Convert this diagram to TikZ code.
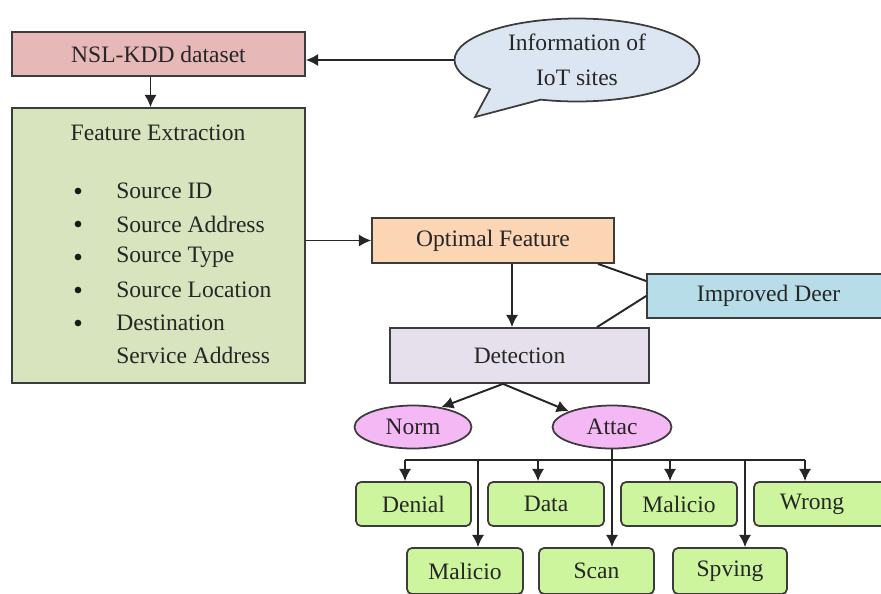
\documentclass[tikz,border=0pt]{standalone}
\usepackage{fontspec}
\setmainfont{Liberation Serif}
\usetikzlibrary{arrows.meta,shapes.geometric,shapes.callouts}
\definecolor{bord}{HTML}{3C3C3C}
\definecolor{txt}{HTML}{262626}
\definecolor{nslc}{HTML}{E6B9B8}
\definecolor{infoc}{HTML}{DCE6F2}
\definecolor{featc}{HTML}{D7E4BD}
\definecolor{optc}{HTML}{FCD5B5}
\definecolor{detc}{HTML}{E5E0EC}
\definecolor{deerc}{HTML}{B7DEE8}
\definecolor{vio}{HTML}{F4B8F4}
\definecolor{grn}{HTML}{CCF59E}
\begin{document}
\begin{tikzpicture}[x=0.02cm,y=-0.02cm,
  every node/.style={font=\fontsize{13.4}{18.7}\selectfont, text=txt},
  box/.style={draw=bord, line width=1pt, inner sep=0pt, rectangle},
  gbox/.style={box, rounded corners=0.1cm, fill=grn},
  oval/.style={ellipse, draw=bord, line width=1pt, fill=vio, inner sep=0pt, minimum height=0.86cm},
  plain/.style={inner sep=0pt},
  dot/.style={circle, fill=black!90, inner sep=0pt, minimum size=3.8pt},
  conn/.style={line width=1.1pt, draw=black!85},
  arr/.style={conn, -{Latex[length=7pt,width=7pt]}},
]
\useasboundingbox (0,0) rectangle (881,593);
\clip (0,0) rectangle (881,593);

% top boxes
\node[box, fill=nslc, minimum width=5.86cm, minimum height=0.88cm] (nsl) at (158.5,54) {NSL-KDD dataset};
\node[ellipse callout, draw=bord, line width=1pt, fill=infoc, inner sep=0pt,
      minimum width=4.9cm, minimum height=1.66cm, align=center,
      callout absolute pointer={(475,117)}, callout pointer arc=28] (info) at (577,60)
      {Information of\\[1pt]IoT sites};

% feature extraction
\node[box, fill=featc, minimum width=5.86cm, minimum height=5.5cm] (feat) at (158.5,245.5) {};
\node[plain] (ft) at (158,133) {Feature Extraction};
\node[dot] (d1) at (78,191) {};
\node[dot] (d2) at (78,224) {};
\node[dot] (d3) at (78,257) {};
\node[dot] (d4) at (78,290) {};
\node[dot] (d5) at (78,323) {};
\node[plain, anchor=west] (s1) at (116,191) {Source ID};
\node[plain, anchor=west] (s2) at (116,224) {Source Address};
\node[plain, anchor=west] (s3) at (116,257) {Source Type};
\node[plain, anchor=west] (s4) at (116,290) {Source Location};
\node[plain, anchor=west] (s5) at (116,323) {Destination};
\node[plain, anchor=west] (s6) at (116,355) {Service Address};

% middle
\node[box, fill=optc, minimum width=4.84cm, minimum height=0.9cm] (opt) at (493,240.5) {Optimal Feature};
\node[box, fill=detc, minimum width=5.18cm, minimum height=1.1cm] (det) at (519.5,355.5) {Detection};
\node[box, fill=deerc, minimum width=4.86cm, minimum height=0.88cm] (deer) at (768.5,296) {Improved Deer};

% ellipses
\node[oval, minimum width=2.34cm] (norm) at (413,427) {Norm};
\node[oval, minimum width=2.38cm] (attac) at (612,427) {Attac};

% categories
\node[gbox, minimum width=2.3cm, minimum height=0.88cm] (denial) at (413.5,504) {Denial};
\node[gbox, minimum width=2.32cm, minimum height=0.88cm] (data) at (546,504) {Data};
\node[gbox, minimum width=2.32cm, minimum height=0.88cm] (mal1) at (679,504) {Malicio};
\node[gbox, minimum width=2.8cm, minimum height=0.88cm] (wrong) at (824,504) {\hspace*{-0.48cm}Wrong};
\node[gbox, minimum width=2.32cm, minimum height=0.92cm] (mal2) at (465,571) {Malicio};
\node[gbox, minimum width=2.3cm, minimum height=0.92cm] (scan) at (596.5,571) {Scan};
\node[gbox, minimum width=2.28cm, minimum height=0.92cm] (spving) at (730,571) {Spving};

% connectors
\draw[arr] (info.west) -- (info.west -| nsl.east);
\draw[arr] ([xshift=-0.16cm]nsl.south) -- ([xshift=-0.16cm]nsl.south |- feat.north);
\draw[arr] (opt.west -| feat.east) -- (opt.west);
\draw[arr] ([xshift=0.38cm]opt.south) -- ([xshift=0.38cm]opt.south |- det.north);
\draw[conn] ([xshift=2.1cm]opt.south) -- ([yshift=0.3cm]deer.west);
\draw[conn] (deer.west) -- ([xshift=1.55cm]det.north);
\draw[arr] ([xshift=-0.33cm]det.south) -- (norm.35);
\draw[arr] ([xshift=-0.33cm]det.south) -- (attac.160);

\coordinate (b1) at (405,460);
\coordinate (b2) at (478,460);
\coordinate (b3) at (538,460);
\coordinate (b5) at (670,460);
\coordinate (b6) at (745,460);
\coordinate (b7) at (805,460);
\draw[conn] (b1) -- (b7);
\draw[arr] (attac.south) -- (attac.south |- scan.north);
\draw[arr] (b1) -- (b1 |- denial.north);
\draw[arr] (b3) -- (b3 |- data.north);
\draw[arr] (b5) -- (b5 |- mal1.north);
\draw[arr] (b7) -- (b7 |- wrong.north);
\draw[arr] (b2) -- (b2 |- mal2.north);
\draw[arr] (b6) -- (b6 |- spving.north);
\end{tikzpicture}
\end{document}
